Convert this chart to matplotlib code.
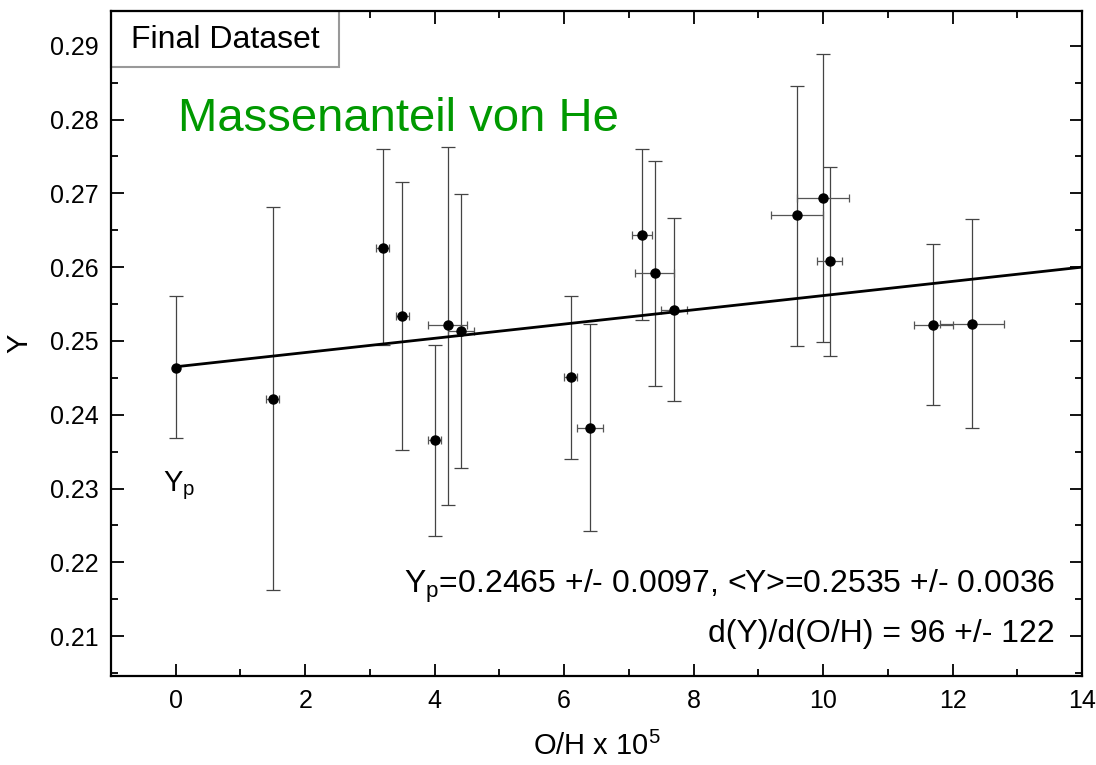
import matplotlib.pyplot as plt
from matplotlib.patches import Rectangle
from matplotlib.ticker import MultipleLocator

plt.rcParams['font.family'] = ['Liberation Sans', 'DejaVu Sans']
plt.rcParams['mathtext.fontset'] = 'custom'
plt.rcParams['mathtext.rm'] = 'Liberation Sans'
plt.rcParams['mathtext.it'] = 'Liberation Sans:italic'
plt.rcParams['mathtext.bf'] = 'Liberation Sans:bold'

# data
oh = [0.0, 1.5, 3.2, 3.5, 4.0, 4.2, 4.4, 6.1, 6.4, 7.2, 7.4, 7.7, 9.6, 10.0, 10.1, 11.7, 12.3]
he = [0.2464, 0.2422, 0.2626, 0.2534, 0.2366, 0.2521, 0.2513, 0.2451, 0.2382,
      0.2643, 0.2592, 0.2542, 0.2670, 0.2693, 0.2608, 0.2522, 0.2523]
he_hi = [0.2561, 0.2682, 0.2760, 0.2715, 0.2495, 0.2763, 0.2699, 0.2561, 0.2523,
         0.2760, 0.2744, 0.2667, 0.2846, 0.2889, 0.2736, 0.2631, 0.2665]
he_lo = [0.2369, 0.2163, 0.2495, 0.2352, 0.2236, 0.2278, 0.2328, 0.2340, 0.2242,
         0.2528, 0.2439, 0.2418, 0.2493, 0.2498, 0.2479, 0.2413, 0.2382]
oh_err = [0.0, 0.1, 0.1, 0.1, 0.1, 0.3, 0.2, 0.1, 0.2, 0.15, 0.3, 0.2, 0.4, 0.4, 0.2, 0.3, 0.5]

fit_x = [0, 14]
fit_y = [0.2465, 0.2600]

fig = plt.figure(figsize=(10.96, 7.65), dpi=100)
ax = fig.add_axes([0.1013, 0.1163, 0.8859, 0.8693])

yerr = [[v - lo for v, lo in zip(he, he_lo)], [hi - v for v, hi in zip(he, he_hi)]]
ax.errorbar(oh, he, yerr=yerr, fmt='none', ecolor='#444444', elinewidth=0.9,
            capsize=5, capthick=0.9, zorder=3)
ax.errorbar(oh, he, xerr=oh_err, fmt='o', color='black', ms=6.5,
            ecolor='#555555', elinewidth=0.9, capsize=3, capthick=0.9, zorder=3)
ax.plot(fit_x, fit_y, color='black', lw=2, zorder=4)

ax.set_xlim(-1, 14)
ax.set_ylim(0.2046, 0.2947)
ax.xaxis.set_major_locator(MultipleLocator(2))
ax.xaxis.set_minor_locator(MultipleLocator(1))
ax.yaxis.set_major_locator(MultipleLocator(0.01))
ax.yaxis.set_minor_locator(MultipleLocator(0.005))
ax.tick_params(which='both', direction='in', top=True, right=True, width=1.3, labelsize=18)
ax.tick_params(which='major', length=9, pad=9)
ax.tick_params(which='minor', length=5)
ax.set_yticks(ax.get_yticks())
ax.set_yticklabels([f'{t:.2f}' for t in ax.get_yticks()], fontsize=18)
ax.set_ylim(0.2046, 0.2947)
for s in ax.spines.values():
    s.set_linewidth(1.6)
    s.set_zorder(6)

ax.set_xlabel('O/H x 10$^5$', fontsize=21, labelpad=14)
ax.set_ylabel('Y', fontsize=21, labelpad=12)

# "Final Dataset" box in the corner
ax.add_patch(Rectangle((0, 1 - 0.0842), 0.2348, 0.0842, transform=ax.transAxes,
                       facecolor='white', edgecolor='#999999', lw=1.5, zorder=5, clip_on=False))
ax.text(0.118, 0.957, 'Final Dataset', transform=ax.transAxes, fontsize=23,
        ha='center', va='center', zorder=7)

ax.text(-0.2, 0.2297, 'Y$_\\mathrm{p}$', fontsize=21, ha='left', va='baseline')
ax.text(13.58, 0.2159, 'Y$_\\mathrm{p}$=0.2465 +/- 0.0097, <Y>=0.2535 +/- 0.0036',
        fontsize=23, ha='right', va='baseline')
ax.text(13.58, 0.2092, 'd(Y)/d(O/H) = 96 +/- 122', fontsize=23, ha='right', va='baseline')

fig.text(0.1624, 0.8288, 'Massenanteil von He', color='#009900', fontsize=34,
         ha='left', va='baseline')

fig.savefig('out.png', dpi=100)
